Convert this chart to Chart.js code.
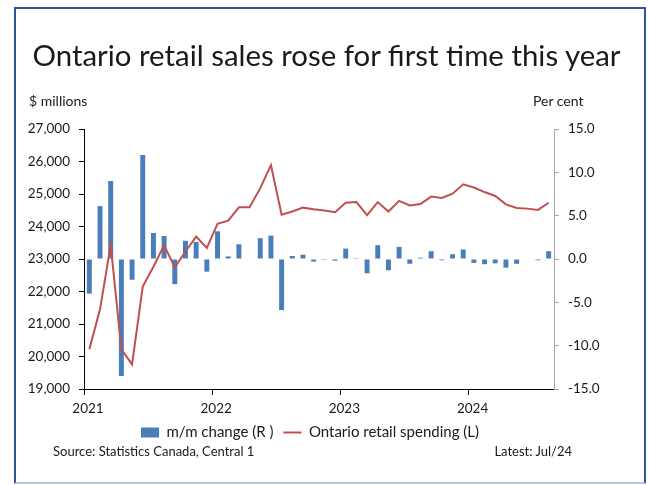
<!DOCTYPE html>
<html>
<head>
<meta charset="utf-8">
<script src="https://cdn.jsdelivr.net/npm/chart.js@4.4.1/dist/chart.umd.min.js"></script>
<style>
  body { margin: 0; background: #fff; font-family: Lato, sans-serif; }
  #wrap { position: relative; width: 649px; height: 485px; overflow: hidden; }
  #frame { position: absolute; left: 14px; top: 7px; width: 632px; height: 477px; box-sizing: border-box;
           border: 2px solid #2f5496; border-bottom-color: #b4c6e7; }
  canvas { position: absolute; left: 0; top: 0; }
  .txt { position: absolute; color: #1a1a1a; white-space: nowrap; line-height: 1; }
  #title { left: 2px; width: 649px; top: 40px; text-align: center; font-size: 29.4px; }
  #unitL { left: 29px; top: 94px; font-size: 14px; }
  #unitR { left: 533px; top: 94px; font-size: 14px; }
  #source { left: 53px; top: 445px; font-size: 13px; }
  #latest { right: 77px; top: 445px; font-size: 13px; }
</style>
</head>
<body>
<div id="wrap">
  <div id="frame"></div>
  <canvas id="myChart" width="649" height="485"></canvas>
  <div class="txt" id="title">Ontario retail sales rose for first time this year</div>
  <div class="txt" id="unitL">$ millions</div>
  <div class="txt" id="unitR">Per cent</div>
  <div class="txt" id="source">Source: Statistics Canada, Central 1</div>
  <div class="txt" id="latest">Latest: Jul/24</div>
</div>
<script>
// monthly observations, one per category slot on the x axis
const months = [
  '2021-01','2021-02','2021-03','2021-04','2021-05','2021-06','2021-07','2021-08','2021-09','2021-10','2021-11','2021-12',
  '2022-01','2022-02','2022-03','2022-04','2022-05','2022-06','2022-07','2022-08','2022-09','2022-10','2022-11','2022-12',
  '2023-01','2023-02','2023-03','2023-04','2023-05','2023-06','2023-07','2023-08','2023-09','2023-10','2023-11','2023-12',
  '2024-01','2024-02','2024-03','2024-04','2024-05','2024-06','2024-07','2024-08'
];
const yearLabels = ['2021', '2022', '2023', '2024'];

// m/m change, per cent (right axis)
const mmChange = [
  -4.0, 6.1, 9.0, -13.5, -2.4, 12.0, 3.0, 2.65, -2.9, 2.1, 1.96, -1.46,
  3.2, 0.3, 1.7, 0.05, 2.4, 2.7, -5.9, 0.35, 0.5, -0.3, -0.1, -0.2,
  1.2, 0.1, -1.65, 1.6, -1.3, 1.4, -0.55, 0.15, 0.9, -0.15, 0.55, 1.1,
  -0.45, -0.6, -0.5, -1.0, -0.55, 0.05, -0.15, 0.9
];

// Ontario retail spending, $ millions (left axis)
const spending = [
  20220, 21450, 23430, 20220, 19760, 22150, 22760, 23420, 22740, 23230, 23690, 23340,
  24080, 24180, 24590, 24590, 25180, 25890, 24360, 24460, 24580, 24530, 24490, 24440,
  24730, 24750, 24350, 24750, 24460, 24790, 24650, 24690, 24920, 24880, 25010, 25300,
  25200, 25060, 24940, 24680, 24570, 24550, 24510, 24730
];

const FONT = 'Lato, sans-serif';
const TEXT = '#1a1a1a';

function createChart() {
  const ctx = document.getElementById('myChart').getContext('2d');
  new Chart(ctx, {
    type: 'bar',
    data: {
      datasets: [{
        type: 'bar',
        label: 'm/m change (R )',
        data: mmChange.map((v, i) => ({ x: i + 0.5, y: v })),
        yAxisID: 'yR',
        backgroundColor: '#4a7ebb',
        borderWidth: 0,
        barPercentage: 0.58,
        categoryPercentage: 0.8,
        pointStyle: 'rect',
        order: 1
      }, {
        type: 'line',
        label: 'Ontario retail spending (L)',
        data: spending.map((v, i) => ({ x: i + 0.5, y: v })),
        yAxisID: 'yL',
        borderColor: '#c0504d',
        backgroundColor: '#c0504d',
        borderWidth: 2,
        pointRadius: 0,
        pointHoverRadius: 0,
        pointBorderWidth: 2,
        pointBorderColor: '#c0504d',
        pointStyle: 'line',
        tension: 0,
        order: 0
      }]
    },
    options: {
      responsive: false,
      animation: false,
      layout: { padding: { top: 129, bottom: 35, left: 0, right: 29 } },
      plugins: {
        tooltip: { enabled: false },
        legend: {
          display: true,
          position: 'bottom',
          labels: {
            usePointStyle: true,
            pointStyleWidth: 18,
            boxHeight: 10,
            padding: 10,
            color: TEXT,
            font: { family: FONT, size: 15 },
            sort: (a, b) => a.datasetIndex - b.datasetIndex
          }
        }
      },
      scales: {
        x: {
          type: 'linear',
          min: 0,
          max: months.length,
          offset: false,
          afterFit: s => { s.height = 26; },
          afterBuildTicks: s => { s.ticks = yearLabels.map((y, i) => ({ value: i * 12 })); },
          ticks: {
            padding: 6,
            labelOffset: 4,
            color: TEXT,
            font: { family: FONT, size: 13.5 },
            callback: v => yearLabels[v / 12]
          },
          grid: { drawOnChartArea: false, offset: false, color: '#000', tickLength: 6 },
          border: { color: '#000', width: 1 }
        },
        yL: {
          position: 'left',
          min: 19000,
          max: 27000,
          afterFit: s => { s.width = 84; },
          ticks: {
            stepSize: 1000,
            padding: 9,
            color: TEXT,
            font: { family: FONT, size: 13.5 },
            callback: v => v.toLocaleString('en-US')
          },
          grid: { drawOnChartArea: false, color: '#000', tickLength: 5 },
          border: { color: '#000', width: 1 }
        },
        yR: {
          position: 'right',
          min: -15,
          max: 15,
          afterFit: s => { s.width = 66; },
          ticks: {
            stepSize: 5,
            padding: 9,
            color: TEXT,
            font: { family: FONT, size: 13.5 },
            callback: v => v.toFixed(1)
          },
          grid: { drawOnChartArea: false, color: '#a6a6a6', tickLength: 5 },
          border: { color: '#a6a6a6', width: 1 }
        }
      }
    }
  });
}

window.onload = createChart;
</script>
</body>
</html>
